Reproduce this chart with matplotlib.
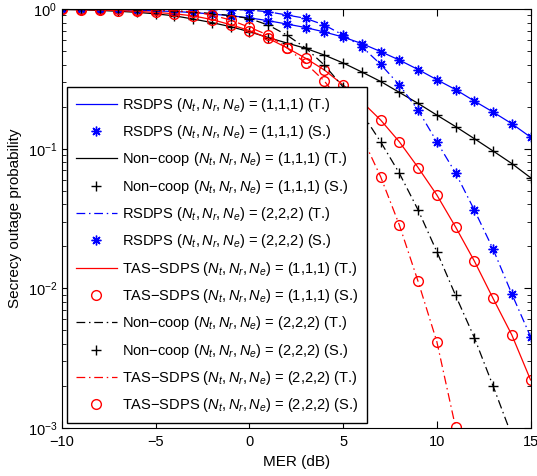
import numpy as np
import matplotlib
matplotlib.use('Agg')
import matplotlib.pyplot as plt

plt.rcParams['font.family'] = ['Liberation Sans', 'DejaVu Sans']
plt.rcParams['mathtext.fontset'] = 'custom'
plt.rcParams['mathtext.rm'] = 'Liberation Sans'
plt.rcParams['mathtext.it'] = 'Liberation Sans:italic'

mer = np.arange(-10, 16)  # dB

# RSDPS (1,1,1)
rsdps_111 = [0.997, 0.995, 0.992, 0.987, 0.980, 0.971, 0.960, 0.944, 0.921, 0.895,
             0.865, 0.825, 0.781, 0.737, 0.685, 0.630, 0.566, 0.496, 0.431, 0.369,
             0.312, 0.265, 0.2195, 0.183, 0.151, 0.121]
# Non-coop (1,1,1)
noncoop_111 = [0.992, 0.987, 0.977, 0.964, 0.947, 0.924, 0.894, 0.848, 0.800, 0.747,
               0.688, 0.625, 0.571, 0.523, 0.468, 0.411, 0.354, 0.303, 0.253, 0.211,
               0.174, 0.144, 0.118, 0.0963, 0.0783, 0.0620]
# RSDPS (2,2,2)
rsdps_222 = [1.0, 1.0, 0.999, 0.999, 0.998, 0.997, 0.996, 0.995, 0.993, 0.990,
             0.984, 0.956, 0.906, 0.858, 0.768, 0.651, 0.537, 0.402, 0.286, 0.189,
             0.112, 0.0670, 0.0364, 0.0191, 0.00912, 0.00451]
# TAS-SDPS (1,1,1)
tas_111 = [0.995, 0.992, 0.985, 0.975, 0.962, 0.946, 0.925, 0.893, 0.841, 0.772,
           0.702, 0.617, 0.528, 0.444, 0.366, 0.286, 0.217, 0.1605, 0.112, 0.0733,
           0.0466, 0.0275, 0.0157, 0.00847, 0.00464, 0.00221]
# Non-coop (2,2,2), last point falls below 1e-3
noncoop_222 = [1.0, 1.0, 0.998, 0.995, 0.990, 0.980, 0.968, 0.952, 0.929, 0.898,
               0.855, 0.768, 0.651, 0.526, 0.397, 0.2765, 0.180, 0.112, 0.0667, 0.0364,
               0.0183, 0.0089, 0.00444, 0.0020, 0.00088]
# TAS-SDPS (2,2,2), up to 11 dB
tas_222 = [1.0, 1.0, 0.999, 0.997, 0.992, 0.984, 0.971, 0.956, 0.906, 0.834,
           0.740, 0.651, 0.528, 0.409, 0.305, 0.2055, 0.122, 0.0630, 0.0284, 0.0112,
           0.00415, 0.00101]

lab = r'$(N_t,N_r,N_e)$'
dd = (0, (7, 3, 1.2, 3))
ms = 7
lw = 0.9
star = (8, 2, 0)  # matlab-like asterisk

fig = plt.figure(figsize=(5.37, 4.76), dpi=100)
ax = fig.add_axes([0.1155, 0.1008, 0.8725, 0.8802])

def n(y):
    return mer[:len(y)]

ax.plot(n(rsdps_111), rsdps_111, '-', color='blue', lw=lw, label='RSDPS ' + lab + ' = (1,1,1) (T.)')
ax.plot(n(rsdps_111), rsdps_111, marker=star, color='blue', ms=ms, mew=1.0, ls='none', label='RSDPS ' + lab + ' = (1,1,1) (S.)')
ax.plot(n(noncoop_111), noncoop_111, '-', color='black', lw=lw, label='Non\u2212coop ' + lab + ' = (1,1,1) (T.)')
ax.plot(n(noncoop_111), noncoop_111, '+', color='black', ms=ms, mew=1.0, ls='none', label='Non\u2212coop ' + lab + ' = (1,1,1) (S.)')
ax.plot(n(rsdps_222), rsdps_222, color='blue', lw=lw, ls=dd, label='RSDPS ' + lab + ' = (2,2,2) (T.)')
ax.plot(n(rsdps_222), rsdps_222, marker=star, color='blue', ms=ms, mew=1.0, ls='none', label='RSDPS ' + lab + ' = (2,2,2) (S.)')
ax.plot(n(tas_111), tas_111, '-', color='red', lw=lw, label='TAS\u2212SDPS ' + lab + ' = (1,1,1) (T.)')
ax.plot(n(tas_111), tas_111, 'o', color='red', mfc='none', ms=ms, ls='none', label='TAS\u2212SDPS ' + lab + ' = (1,1,1) (S.)')
ax.plot(n(noncoop_222), noncoop_222, color='black', lw=lw, ls=dd, label='Non\u2212coop ' + lab + ' = (2,2,2) (T.)')
ax.plot(n(noncoop_222), noncoop_222, '+', color='black', ms=ms, mew=1.0, ls='none', label='Non\u2212coop ' + lab + ' = (2,2,2) (S.)')
ax.plot(n(tas_222), tas_222, color='red', lw=lw, ls=dd, label='TAS\u2212SDPS ' + lab + ' = (2,2,2) (T.)')
ax.plot(n(tas_222), tas_222, 'o', color='red', mfc='none', ms=ms, ls='none', label='TAS\u2212SDPS ' + lab + ' = (2,2,2) (S.)')

ax.set_yscale('log')
ax.set_xlim(-10, 15)
ax.set_ylim(1e-3, 1)
ax.set_xticks([-10, -5, 0, 5, 10, 15])
ax.tick_params(which='both', direction='in', top=True, right=True, labelsize=10.5)
ax.tick_params(which='major', length=5)
ax.tick_params(which='minor', length=3)
ax.tick_params(axis='x', pad=5)
ax.set_xlabel('MER (dB)', fontsize=11)
ax.set_ylabel('Secrecy outage probability', fontsize=11)

leg = ax.legend(loc='upper left', bbox_to_anchor=(0.0107, 0.814), borderaxespad=0,
                fontsize=10.5, fancybox=False, framealpha=1, edgecolor='black',
                labelspacing=0.64, handlelength=2.8, handletextpad=0.4,
                borderpad=0.6)
leg.get_frame().set_linewidth(1.0)

fig.savefig('out.png', dpi=100)
